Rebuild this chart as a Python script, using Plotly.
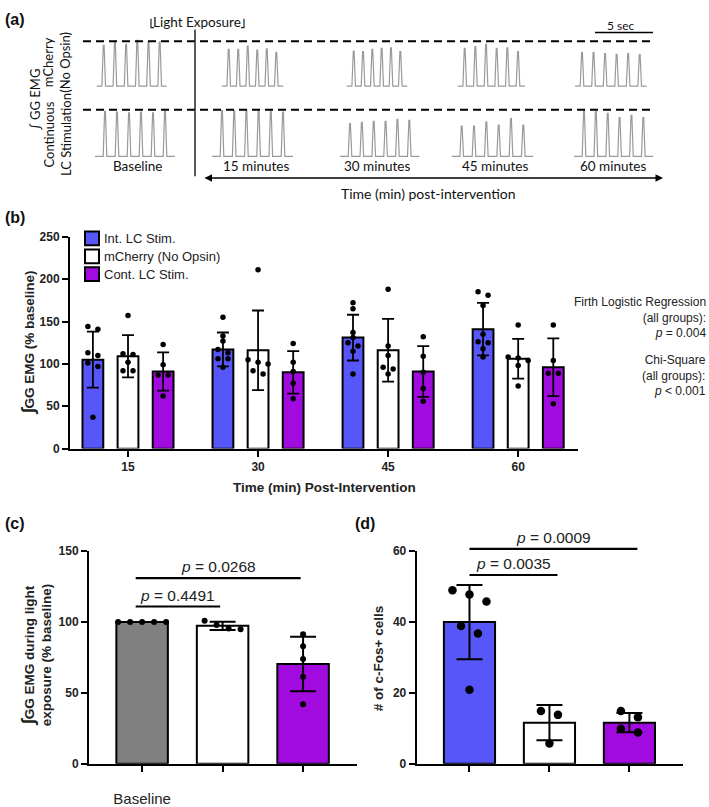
import plotly.graph_objects as go

W, H = 709, 807
FONT = "Liberation Sans, Arial, sans-serif"
SCHEM_FONT = "Lato, Open Sans, sans-serif"
BLUE = "#5757F9"
PURPLE = "#A20BE0"
GRAY = "#808080"

# ---------------- Panel (a) data: spike amplitudes (fraction of dashed reference) ----------------
a_time_labels = ["Baseline", "15 minutes", "30 minutes", "45 minutes", "60 minutes"]
a_row_labels = ["mCherry<br>(No Opsin)", "Continuous<br>LC Stimulation"]
mch_amp = [[0.91, 0.99, 0.93, 1.02, 0.98, 0.98],
           [0.82, 0.82, 0.89, 0.80, 0.83, 0.75],
           [0.78, 0.77, 0.82, 0.84, 0.855, 0.77],
           [0.84, 0.88, 0.93, 0.84, 0.855, 0.77],
           [0.75, 0.75, 0.725, 0.71, 0.725, 0.70]]
cont_amp = [[0.965, 0.95, 0.93, 0.95, 0.93, 0.965],
            [0.98, 0.98, 0.98, 0.98, 0.97, 0.95],
            [0.70, 0.73, 0.75, 0.75, 0.79, 0.77],
            [0.65, 0.65, 0.74, 0.67, 0.81, 0.67],
            [0.98, 0.965, 0.92, 0.83, 0.88, 0.83]]

# ---------------- Panel (b) data ----------------
b_times = ["15", "30", "45", "60"]
b_groups = ["Int. LC Stim.", "mCherry (No Opsin)", "Cont. LC Stim."]
int_mean = [105, 117, 131, 141]
int_sd = [33, 20, 27, 31]
mch_mean = [109, 116, 116, 106]
mch_sd = [25, 47, 37, 23.5]
cont_mean = [91, 90, 91, 96]
cont_sd = [22.5, 25, 30, 34]
int_pts = [[144, 141, 113, 110, 101, 97, 37],
           [155, 133, 127, 117, 113, 106, 106, 96],
           [172, 165, 137, 131, 125, 121, 115, 88],
           [185, 181, 169, 135, 126, 125, 118, 108]]
mch_pts = [[157, 112, 111, 102, 92, 92],
           [211, 105, 102, 100, 92, 88],
           [188, 121, 110, 96, 94, 88],
           [146, 108, 107, 104, 98, 74]]
cont_pts = [[123, 99, 87, 87, 62],
            [124, 102, 91, 77, 59],
            [132, 109, 90, 71, 56],
            [146, 104, 89, 89, 53]]

# ---------------- Panel (c) data ----------------
c_labels = ["Baseline", "", ""]
c_mean = [100, 97.4, 70.4]
c_sd = [0, 2.9, 19.3]
c_pts = [[100, 100, 100, 100, 100], [95, 98, 101, 95.5], [91.4, 83, 74, 61.5, 42]]
c_sig = [(0, 1, "0.4491", 111), (0, 2, "0.0268", 131)]

# ---------------- Panel (d) data ----------------
d_mean = [40, 11.6, 11.6]
d_sd = [10.5, 5, 2.7]
d_pts = [[49, 47.8, 45.8, 38.9, 36.8, 20.9], [14.9, 13.8, 5.7], [14.9, 13.1, 9.9, 8.8]]
d_sig = [(0, 1, "0.0035", 53.3), (0, 2, "0.0009", 60.7)]

# ---------------- geometry (pixels) ----------------
B_X, B_Y = (70, 578), (235, 451.7)
C_X, C_Y = (89, 357), (556.7, 774)
D_X, D_Y = (416.7, 683), (556.7, 774)
B_RANGE_X = [-0.446, 3.46]
CD_RANGE_X = [-0.66, 2.67]


def px(x):
    return x / W


def py(y):
    return 1 - y / H


def swarm(values, center, diam_px, ppu_y, ppu_x):
    order = sorted(range(len(values)), key=lambda i: -values[i])
    clusters = []
    for i in order:
        if clusters and abs(values[clusters[-1][-1]] - values[i]) * ppu_y < diam_px:
            clusters[-1].append(i)
        else:
            clusters.append([i])
    xs = [center] * len(values)
    s = 2 * diam_px
    for cl in clusters:
        n = len(cl)
        for k, i in enumerate(cl):
            xs[i] = center + (k - (n - 1) / 2) * s / ppu_x
    return xs


fig = go.Figure()

# ---------------- Panel (a): EMG traces ----------------
rows = [(81, 35, mch_amp, 7, [96.7, 221.7, 346.7, 457.7, 575], [166.7, 283.3, 407.3, 525, 646.7]),
        (152.7, 105, cont_amp, 10, [95, 212, 340, 451.7, 574], [175, 293, 419.3, 533.3, 653.3])]
for base, top, amps_all, pad, x0s, x1s in rows:
    for amps, x0, x1 in zip(amps_all, x0s, x1s):
        n = len(amps)
        first, last = x0 + pad, x1 - pad
        step = (last - first) / (n - 1)
        xs, ys = [x0], [base]
        for i, a in enumerate(amps):
            c = first + i * step
            xs += [c - 1.8, c - 0.4, c + 0.4, c + 1.8]
            pk = base - a * (base - top)
            ys += [base, pk, pk, base]
        xs.append(x1)
        ys.append(base)
        fig.add_trace(go.Scatter(x=xs, y=ys, mode="lines", line=dict(color="#9a9a9a", width=1.2),
                                 xaxis="x5", yaxis="y5", showlegend=False, hoverinfo="skip"))

shapes = []
annotations = []
for yy in (35, 105):
    shapes.append(dict(type="line", xref="x5", yref="y5", x0=83, x1=655, y0=yy, y1=yy,
                       line=dict(color="black", width=2, dash="8px,5px")))
shapes.append(dict(type="line", xref="x5", yref="y5", x0=195, x1=195, y0=23, y1=173,
                   line=dict(color="#222", width=1.5)))
shapes.append(dict(type="line", xref="x5", yref="y5", x0=595, x1=653, y0=26, y1=26,
                   line=dict(color="black", width=1.5)))
shapes.append(dict(type="path", xref="x5", yref="y5", path="M151,12 L151,21 L154,21",
                   line=dict(color="#222", width=1.2)))
shapes.append(dict(type="path", xref="x5", yref="y5", path="M244,12 L244,21 L241,21",
                   line=dict(color="#222", width=1.2)))

annotations.append(dict(xref="x5", yref="y5", x=663, y=175, ax=203, ay=175, axref="x5", ayref="y5",
                        text="", showarrow=True, arrowhead=2, arrowside="end+start", arrowsize=1,
                        arrowwidth=1.5, arrowcolor="black", standoff=0, startstandoff=0))

sch = dict(family=SCHEM_FONT, size=13.5, color="#111")
annotations.append(dict(xref="x5", yref="y5", x=197, y=15, text="Light Exposure", showarrow=False, font=sch))
annotations.append(dict(xref="x5", yref="y5", x=621, y=19, text="5 sec", showarrow=False,
                        font=dict(family=SCHEM_FONT, size=12, color="#111")))
for lab, cx in zip(a_time_labels, [137, 256, 377, 495, 613]):
    annotations.append(dict(xref="x5", yref="y5", x=cx, y=163, text=lab, showarrow=False, font=sch))
annotations.append(dict(xref="x5", yref="y5", x=428, y=191, text="Time (min) post-intervention",
                        showarrow=False, font=dict(family=SCHEM_FONT, size=14, color="#111")))
annotations.append(dict(xref="x5", yref="y5", x=35, y=95, text="∫ GG EMG", textangle=-90,
                        showarrow=False, font=dict(family=SCHEM_FONT, size=13, color="#111")))
for lab, cy in zip(a_row_labels, [57, 131]):
    annotations.append(dict(xref="x5", yref="y5", x=57, y=cy, text=lab, textangle=-90,
                            showarrow=False, font=dict(family=SCHEM_FONT, size=13, color="#111")))

# ---------------- Panel (b) ----------------
B_OFF, B_W = 0.27, 0.16
b_ppu_y = (B_Y[1] - B_Y[0]) / 250
b_ppu_x = (B_X[1] - B_X[0]) / (B_RANGE_X[1] - B_RANGE_X[0])
for gi, (means, sds, pts, col) in enumerate([(int_mean, int_sd, int_pts, BLUE),
                                              (mch_mean, mch_sd, mch_pts, "white"),
                                              (cont_mean, cont_sd, cont_pts, PURPLE)]):
    off = (gi - 1) * B_OFF
    xs = [t + off for t in range(len(b_times))]
    fig.add_trace(go.Bar(x=xs, y=means, width=B_W, name=b_groups[gi],
                         marker=dict(color=col, line=dict(color="black", width=2)),
                         error_y=dict(type="data", array=sds, visible=True, color="black",
                                      thickness=1.8, width=6),
                         xaxis="x", yaxis="y", showlegend=False))
    for t, vals in enumerate(pts):
        fig.add_trace(go.Scatter(x=swarm(vals, t + off, 5, b_ppu_y, b_ppu_x), y=vals, mode="markers",
                                 marker=dict(color="black", size=5.5), xaxis="x", yaxis="y",
                                 showlegend=False, cliponaxis=False, hoverinfo="skip"))

# legend (b)
for i, (lab, col) in enumerate(zip(b_groups, [BLUE, "white", PURPLE])):
    cy = 236.7 + i * 18.3
    shapes.append(dict(type="rect", xref="paper", yref="paper", x0=px(85), x1=px(99),
                       y0=py(cy + 7), y1=py(cy - 7), fillcolor=col,
                       line=dict(color="black", width=2)))
    annotations.append(dict(xref="paper", yref="paper", x=px(102), y=py(cy), xanchor="left",
                            text=lab, showarrow=False,
                            font=dict(family=FONT, size=13, color="#222")))

annotations.append(dict(xref="paper", yref="paper", x=px(708), y=py(318), xanchor="right",
                        align="right", showarrow=False,
                        text="Firth Logistic Regression<br>(all groups):<br><i>p</i> = 0.004",
                        font=dict(family=FONT, size=12, color="#222")))
annotations.append(dict(xref="paper", yref="paper", x=px(708), y=py(377), xanchor="right",
                        align="right", showarrow=False,
                        text="Chi-Square<br>(all groups):<br><i>p</i> &lt; 0.001",
                        font=dict(family=FONT, size=12, color="#222")))
annotations.append(dict(xref="paper", yref="paper", x=px(28), y=py(343), textangle=-90,
                        showarrow=False,
                        text="<b><span style='font-size:18px'>∫</span>GG EMG (% baseline)</b>",
                        font=dict(family=FONT, size=13.5, color="#222")))
annotations.append(dict(xref="paper", yref="paper", x=px(324), y=py(491), showarrow=False,
                        text="<b>Time (min) Post-Intervention</b>",
                        font=dict(family=FONT, size=13.5, color="#222")))


# ---------------- Panels (c) and (d) ----------------
def panel(xa, ya, means, sds, pts, cols, X, Y, yr, diam, cap):
    ppu_y = (Y[1] - Y[0]) / yr
    ppu_x = (X[1] - X[0]) / (CD_RANGE_X[1] - CD_RANGE_X[0])
    for i, (m, s, col) in enumerate(zip(means, sds, cols)):
        fig.add_trace(go.Bar(x=[i], y=[m], width=0.64,
                             marker=dict(color=col, line=dict(color="black", width=2)),
                             error_y=dict(type="data", array=[s], visible=s > 0, color="black",
                                          thickness=2, width=cap),
                             xaxis=xa, yaxis=ya, showlegend=False))
        fig.add_trace(go.Scatter(x=swarm(pts[i], i, diam, ppu_y, ppu_x), y=pts[i], mode="markers",
                                 marker=dict(color="black", size=diam), xaxis=xa, yaxis=ya,
                                 showlegend=False, cliponaxis=False, hoverinfo="skip"))


panel("x3", "y3", c_mean, c_sd, c_pts, [GRAY, "white", PURPLE], C_X, C_Y, 150, 6, 13)
panel("x4", "y4", d_mean, d_sd, d_pts, [BLUE, "white", PURPLE], D_X, D_Y, 60, 8.5, 13)


def sig(X, Y, yr, comps, pad0, pad1):
    span = CD_RANGE_X[1] - CD_RANGE_X[0]
    for i, j, ptxt, yv in comps:
        def xp(v):
            return px(X[0] + (v - CD_RANGE_X[0]) / span * (X[1] - X[0]))
        yp = py(Y[1] - yv / yr * (Y[1] - Y[0]))
        x0, x1 = xp(i + pad0), xp(j + pad1)
        shapes.append(dict(type="line", xref="paper", yref="paper", x0=x0, x1=x1, y0=yp, y1=yp,
                           line=dict(color="black", width=2.2)))
        annotations.append(dict(xref="paper", yref="paper", x=(x0 + x1) / 2, y=yp, yanchor="bottom",
                                yshift=1, showarrow=False, text="<i>p</i> = " + ptxt,
                                font=dict(family=FONT, size=15.5, color="#222")))


sig(C_X, C_Y, 150, c_sig, -0.08, -0.03)
sig(D_X, D_Y, 60, d_sig, 0.0, 0.1)

annotations.append(dict(xref="paper", yref="paper", x=px(36), y=py(663), textangle=-90,
                        showarrow=False,
                        text="<b><span style='font-size:18px'>∫</span>GG EMG during light<br>exposure (% baseline)</b>",
                        font=dict(family=FONT, size=13.5, color="#222")))
annotations.append(dict(xref="paper", yref="paper", x=px(378), y=py(666), textangle=-90,
                        showarrow=False, text="<b># of c-Fos+ cells</b>",
                        font=dict(family=FONT, size=13.5, color="#222")))

for lab, x, y in [("(a)", 3, 13), ("(b)", 3, 215), ("(c)", 3, 528), ("(d)", 353, 528)]:
    annotations.append(dict(xref="paper", yref="paper", x=px(x), y=py(y), xanchor="left",
                            showarrow=False, text="<b>" + lab + "</b>",
                            font=dict(family=FONT, size=16, color="#111")))

for a in annotations:
    a.setdefault("xanchor", "center")
    a.setdefault("yanchor", "middle")

tickfont = dict(family=FONT, size=12, color="#222", weight="bold")
axis_common = dict(showline=True, linecolor="black", linewidth=2, ticks="outside", ticklen=6,
                   tickwidth=2, tickcolor="black", showgrid=False, zeroline=False, tickfont=tickfont,
                   fixedrange=True)

fig.update_layout(
    width=W, height=H, margin=dict(l=0, r=0, t=0, b=0),
    paper_bgcolor="white", plot_bgcolor="rgba(0,0,0,0)",
    barmode="overlay", showlegend=False,
    xaxis=dict(domain=[px(B_X[0]), px(B_X[1])], range=B_RANGE_X, tickvals=list(range(len(b_times))),
               ticktext=b_times, anchor="y", **axis_common),
    yaxis=dict(domain=[py(B_Y[1]), py(B_Y[0])], range=[0, 250], dtick=50, anchor="x", **axis_common),
    xaxis3=dict(domain=[px(C_X[0]), px(C_X[1])], range=CD_RANGE_X, tickvals=[0, 1, 2],
                ticktext=c_labels, anchor="y3", ticklabelstandoff=14,
                **{**axis_common, "tickfont": dict(family=FONT, size=15, color="#222")}),
    yaxis3=dict(domain=[py(C_Y[1]), py(C_Y[0])], range=[0, 150], dtick=50, anchor="x3", **axis_common),
    xaxis4=dict(domain=[px(D_X[0]), px(D_X[1])], range=CD_RANGE_X, tickvals=[0, 1, 2],
                ticktext=["", "", ""], anchor="y4", **axis_common),
    yaxis4=dict(domain=[py(D_Y[1]), py(D_Y[0])], range=[0, 60], dtick=20, anchor="x4", **axis_common),
    xaxis5=dict(domain=[0, 1], range=[0, W], visible=False, anchor="y5", fixedrange=True),
    yaxis5=dict(domain=[py(200), 1], range=[200, 0], visible=False, anchor="x5", fixedrange=True),
    shapes=shapes, annotations=annotations,
)

fig.write_html("out.html")
